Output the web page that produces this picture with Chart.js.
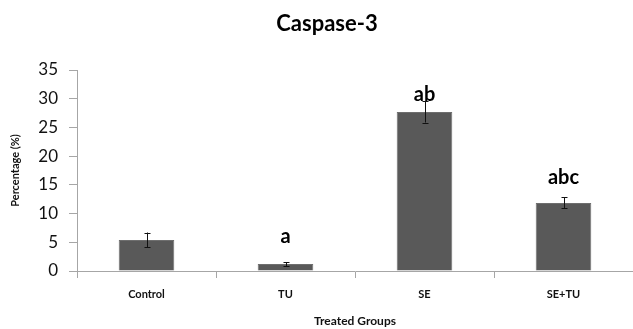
<!DOCTYPE html>
<html>
<head>
<meta charset="utf-8">
<script src="https://cdn.jsdelivr.net/npm/chart.js@4.4.1/dist/chart.umd.min.js"></script>
<style>
    html, body {margin: 0; padding: 0; background: #fff;}
    #wrap {width: 633px; height: 329px;}
</style>
</head>
<body>
<div id="wrap"><canvas id="chart"></canvas></div>
<script>
const groups = ["Control", "TU", "SE", "SE+TU"];
const percentages = [5.4, 1.2, 27.7, 11.85];
const errors = [1.3, 0.35, 1.85, 0.95];
const letters = ["", "a", "ab", "abc"];
const yTicks = [0, 5, 10, 15, 20, 25, 30, 35];

const FONT = "Lato, 'Open Sans', sans-serif";

// error bars drawn from the y scale
const errorBars = {
    id: "errorBars",
    afterDatasetsDraw(chart) {
        const {ctx, scales: {x, y}} = chart;
        ctx.save();
        ctx.strokeStyle = "#111";
        ctx.lineWidth = 1;
        percentages.forEach((v, i) => {
            const px = Math.round(x.getPixelForValue(i)) + 0.5;
            const top = y.getPixelForValue(v + errors[i]);
            const bot = y.getPixelForValue(v - errors[i]);
            ctx.beginPath();
            ctx.moveTo(px, top);
            ctx.lineTo(px, bot);
            ctx.moveTo(px - 3, Math.round(top) + 0.5);
            ctx.lineTo(px + 3, Math.round(top) + 0.5);
            ctx.moveTo(px - 3, Math.round(bot) + 0.5);
            ctx.lineTo(px + 3, Math.round(bot) + 0.5);
            ctx.stroke();
        });
        ctx.restore();
    }
};

// significance letters above the error bars
const letterGaps = [0, 19, 0, 13.5];
const sigLetters = {
    id: "sigLetters",
    afterDraw(chart) {
        const {ctx, scales: {x, y}} = chart;
        ctx.save();
        ctx.fillStyle = "#000";
        ctx.font = "bold 20px " + FONT;
        ctx.textAlign = "center";
        ctx.textBaseline = "alphabetic";
        letters.forEach((t, i) => {
            if (!t) return;
            const top = y.getPixelForValue(percentages[i] + errors[i]);
            ctx.fillText(t, x.getPixelForValue(i), top - letterGaps[i]);
        });
        ctx.restore();
    }
};

const chartTitle = {
    id: "chartTitle",
    afterDraw(chart) {
        const ctx = chart.ctx;
        ctx.save();
        ctx.fillStyle = "#000";
        ctx.font = "bold 22px " + FONT;
        ctx.textAlign = "center";
        ctx.textBaseline = "middle";
        ctx.fillText("Caspase-3", 327, 24);
        ctx.restore();
    }
};

new Chart(document.getElementById("chart"), {
    type: "bar",
    data: {
        labels: groups,
        datasets: [{
            data: percentages,
            backgroundColor: "#595959",
            borderColor: "#6e6e6e",
            borderWidth: 1,
            barPercentage: 0.4,
            categoryPercentage: 1,
        }],
    },
    options: {
        responsive: true,
        maintainAspectRatio: false,
        animation: false,
        layout: {padding: {top: 70, right: 0, bottom: 0, left: 0}},
        plugins: {
            legend: {display: false},
            tooltip: {enabled: false},
            title: {display: false},
        },
        scales: {
            x: {
                offset: true,
                grid: {offset: true, drawOnChartArea: false, drawTicks: true, tickLength: 7, color: "#a6a6a6"},
                border: {color: "#a6a6a6"},
                ticks: {padding: 10, color: "#111", font: {family: FONT, size: 11, weight: "bold"}},
                title: {
                    display: true,
                    text: "Treated Groups",
                    color: "#111",
                    padding: {top: 12, bottom: 1},
                    font: {family: FONT, size: 12, weight: "bold"},
                },
                afterFit(scale) { scale.height = 58; },
            },
            y: {
                min: 0,
                max: 35,
                afterBuildTicks(scale) { scale.ticks = yTicks.map(v => ({value: v})); },
                grid: {drawOnChartArea: false, drawTicks: true, tickLength: 8, color: "#a6a6a6"},
                border: {color: "#a6a6a6"},
                ticks: {padding: 11, color: "#111", font: {family: FONT, size: 17}},
                title: {
                    display: true,
                    text: "Percentage (%)",
                    color: "#111",
                    padding: {top: 9, bottom: 0},
                    font: {family: FONT, size: 11, weight: "bold"},
                },
                afterFit(scale) { scale.width = 77; },
            },
        },
    },
    plugins: [errorBars, sigLetters, chartTitle],
});
</script>
</body>
</html>
